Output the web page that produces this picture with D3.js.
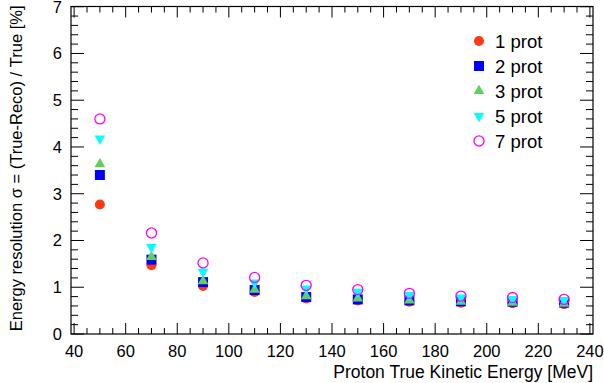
<!DOCTYPE html>
<html><head><meta charset="utf-8">
<script src="https://cdn.jsdelivr.net/npm/d3@7"></script>
<style>body{margin:0;background:#fff}svg{display:block}text{font-family:"Liberation Sans",Arial,sans-serif}</style>
</head><body><svg id="c" width="604" height="383"></svg>
<script>
const energies = [50, 70, 90, 110, 130, 150, 170, 190, 210, 230];
const prot1 = [2.77, 1.47, 1.03, 0.90, 0.76, 0.72, 0.69, 0.67, 0.66, 0.64];
const prot2 = [3.40, 1.59, 1.11, 0.94, 0.79, 0.74, 0.72, 0.70, 0.69, 0.67];
const prot3 = [3.63, 1.65, 1.13, 0.95, 0.81, 0.76, 0.72, 0.69, 0.67, 0.65];
const prot5 = [4.18, 1.86, 1.33, 1.10, 0.97, 0.90, 0.83, 0.78, 0.74, 0.72];
const prot7 = [4.60, 2.16, 1.52, 1.21, 1.04, 0.95, 0.87, 0.81, 0.78, 0.74];
const seriesNames = ["1 prot", "2 prot", "3 prot", "5 prot", "7 prot"];
const xTicks = [40, 60, 80, 100, 120, 140, 160, 180, 200, 220, 240];
const yTicks = [0, 1, 2, 3, 4, 5, 6, 7];

const svg = d3.select("#c");
const L = 71, R = 593, T = 6.5, B = 334;
const x = d3.scaleLinear().domain([38.8, 241.2]).range([L, R]);
const y = d3.scaleLinear().domain([0, 7]).range([B, T + 0.2]);

const series = [
  {name: seriesNames[0], vals: prot1, type: d3.symbolCircle, size: 80, fill: "#ff3a10", stroke: "none", rot: 0},
  {name: seriesNames[1], vals: prot2, type: d3.symbolSquare, size: 100, fill: "#0000ff", stroke: "none", rot: 0},
  {name: seriesNames[2], vals: prot3, type: d3.symbolTriangle, size: 50, fill: "#5fcf5f", stroke: "none", rot: 0},
  {name: seriesNames[3], vals: prot5, type: d3.symbolTriangle, size: 50, fill: "#00ffff", stroke: "none", rot: 180},
  {name: seriesNames[4], vals: prot7, type: d3.symbolCircle, size: 80, fill: "none", stroke: "#ff00ff", rot: 0}
];

// frame
svg.append("rect").attr("x", L).attr("y", T).attr("width", R - L).attr("height", B - T)
  .attr("fill", "none").attr("stroke", "#000").attr("stroke-width", 1.2);

// ticks (inside, all four sides)
const tg = svg.append("g").attr("stroke", "#000").attr("stroke-width", 1);
const xMinor = d3.range(40, 241, 5);
xMinor.forEach(v => {
  const major = v % 20 === 0;
  const len = major ? 11 : 6;
  const px = x(v);
  tg.append("line").attr("x1", px).attr("x2", px).attr("y1", B).attr("y2", B - len);
  tg.append("line").attr("x1", px).attr("x2", px).attr("y1", T).attr("y2", T + len);
});
const yMinor = d3.range(0, 7.001, 0.2);
yMinor.forEach(v => {
  const major = Math.abs(v - Math.round(v)) < 1e-6;
  const len = major ? 13 : 7;
  const py = y(v);
  tg.append("line").attr("x1", L).attr("x2", L + len).attr("y1", py).attr("y2", py);
  tg.append("line").attr("x1", R).attr("x2", R - len).attr("y1", py).attr("y2", py);
});

// tick labels
svg.append("g").selectAll("text").data(xTicks).join("text")
  .attr("x", d => x(d)).attr("y", 357).attr("text-anchor", "middle")
  .attr("font-size", 16.5).text(d => d);
svg.append("g").selectAll("text").data(yTicks).join("text")
  .attr("x", 62).attr("y", d => y(d) + 6).attr("text-anchor", "end")
  .attr("font-size", 16.5).text(d => d);

// axis titles
svg.append("text").attr("x", R).attr("y", 378).attr("text-anchor", "end")
  .attr("font-size", 17.5).text("Proton True Kinetic Energy [MeV]");
svg.append("text").attr("transform", `translate(22,${T - 1}) rotate(-90)`)
  .attr("text-anchor", "end").attr("font-size", 16.5)
  .text("Energy resolution σ = (True-Reco) / True [%]");

// markers
series.forEach(s => {
  const sym = d3.symbol().type(s.type).size(s.size);
  svg.append("g").selectAll("path").data(energies.map((e, i) => [e, s.vals[i]])).join("path")
    .attr("d", sym)
    .attr("transform", d => `translate(${x(d[0])},${y(d[1])}) rotate(${s.rot})`)
    .attr("fill", s.fill).attr("stroke", s.stroke).attr("stroke-width", 1.3);
});

// legend
const lg = svg.append("g");
series.forEach((s, i) => {
  const ly = 41 + i * 25;
  const sym = d3.symbol().type(s.type).size(s.size);
  lg.append("path").attr("d", sym)
    .attr("transform", `translate(479,${ly}) rotate(${s.rot})`)
    .attr("fill", s.fill).attr("stroke", s.stroke).attr("stroke-width", 1.3);
  lg.append("text").attr("x", 495).attr("y", ly + 6.5).attr("font-size", 18.5).text(s.name);
});
</script></body></html>
